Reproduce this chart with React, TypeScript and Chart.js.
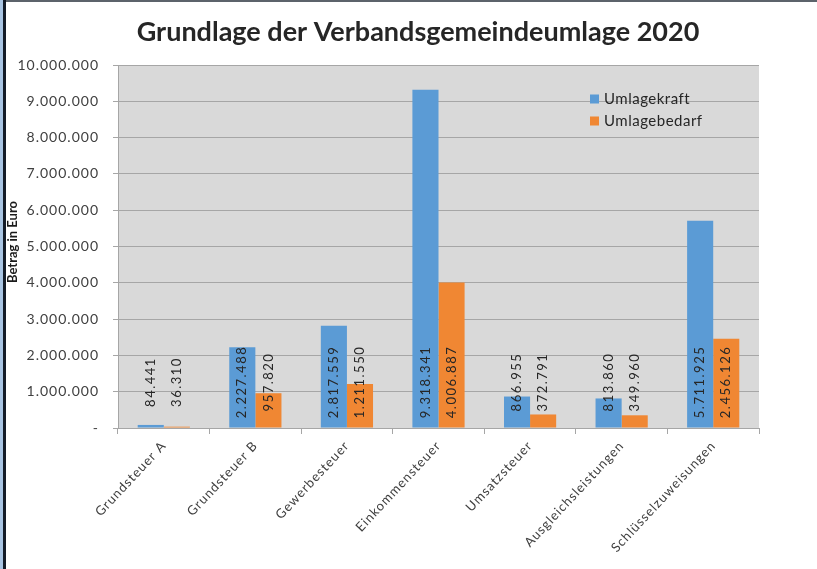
import React, { useEffect, useRef } from "react";
import { Chart, registerables } from "chart.js";

Chart.register(...registerables);

const titleText = "Grundlage der Verbandsgemeindeumlage 2020";
const yAxisTitle = "Betrag in Euro";
const categories = [
  "Grundsteuer A",
  "Grundsteuer B",
  "Gewerbesteuer",
  "Einkommensteuer",
  "Umsatzsteuer",
  "Ausgleichsleistungen",
  "Schlüsselzuweisungen",
];
const seriesNames = ["Umlagekraft", "Umlagebedarf"];
const umlagekraft = [84441, 2227488, 2817559, 9318341, 866955, 813860, 5711925];
const umlagebedarf = [36310, 957820, 1211550, 4006887, 372791, 349960, 2456126];
const yMin = 0;
const yMax = 10000000;
const yStep = 1000000;

const BLUE = "#5b9bd5";
const ORANGE = "#f08733";
const FONT = "Lato, 'Open Sans', sans-serif";

function fmt(n: number): string {
  if (n === 0) return "-";
  const s = Math.round(n).toString();
  return s.replace(/\B(?=(\d{3})+(?!\d))/g, ".");
}

const decorPlugin = {
  id: "decor",
  beforeDraw(chart: any) {
    const { ctx, chartArea } = chart;
    ctx.letterSpacing = "1px";
    ctx.save();
    ctx.fillStyle = "#d9d9d9";
    ctx.fillRect(chartArea.left, chartArea.top, chartArea.right - chartArea.left, chartArea.bottom - chartArea.top);
    ctx.restore();
  },
  afterDatasetsDraw(chart: any) {
    const { ctx, chartArea } = chart;
    const yScale = chart.scales.y;
    ctx.save();
    ctx.letterSpacing = "1.5px";
    ctx.font = `13px ${FONT}`;
    ctx.fillStyle = "#262626";
    ctx.textAlign = "center";
    ctx.textBaseline = "middle";
    chart.data.datasets.forEach((ds: any, di: number) => {
      const meta = chart.getDatasetMeta(di);
      meta.data.forEach((el: any, i: number) => {
        const x = el.x;
        const y = yScale.bottom - 46;
        ctx.save();
        ctx.translate(x, y);
        ctx.rotate(-Math.PI / 2);
        ctx.fillText(fmt(ds.data[i]), 0, 0);
        ctx.restore();
      });
    });
    // title
    ctx.letterSpacing = "0px";
    ctx.font = `bold 27px ${FONT}`;
    ctx.fillStyle = "#262626";
    ctx.textAlign = "center";
    ctx.textBaseline = "middle";
    ctx.fillText(titleText, 418, 32);
    // y axis title
    ctx.save();
    ctx.translate(13, 242);
    ctx.rotate(-Math.PI / 2);
    ctx.font = `bold 13px ${FONT}`;
    ctx.fillStyle = "#1a1a1a";
    ctx.fillText(yAxisTitle, 0, 0);
    ctx.restore();
    // legend
    const colors = [BLUE, ORANGE];
    const lx = 590;
    const ly = [99, 121];
    ctx.letterSpacing = "0.5px";
    seriesNames.forEach((name, i) => {
      ctx.fillStyle = colors[i];
      ctx.fillRect(lx, ly[i] - 4.5, 9, 9);
      ctx.fillStyle = "#262626";
      ctx.font = `15px ${FONT}`;
      ctx.textAlign = "left";
      ctx.textBaseline = "middle";
      ctx.fillText(name, lx + 14, ly[i]);
    });
    ctx.restore();
  },
};

export default function App() {
  const ref = useRef<HTMLCanvasElement | null>(null);
  useEffect(() => {
    if (!ref.current) return;
    const chart = new Chart(ref.current, {
      type: "bar",
      data: {
        labels: categories,
        datasets: [
          { label: seriesNames[0], data: umlagekraft, backgroundColor: BLUE, categoryPercentage: 0.57, barPercentage: 1 },
          { label: seriesNames[1], data: umlagebedarf, backgroundColor: ORANGE, categoryPercentage: 0.57, barPercentage: 1 },
        ],
      },
      options: {
        responsive: false,
        animation: false,
        layout: { padding: { left: 6, right: 58, top: 65, bottom: 0 } },
        plugins: {
          legend: { display: false },
          title: { display: false },
          tooltip: { enabled: false },
        },
        scales: {
          x: {
            afterFit(scale: any) {
              scale.height = 141;
            },
            grid: { drawOnChartArea: false, drawTicks: true, tickLength: 6, color: "#a6a6a6", offset: true },
            border: { color: "#a6a6a6", width: 1 },
            ticks: {
              autoSkip: false,
              minRotation: 47,
              maxRotation: 47,
              padding: 4,
              color: "#404040",
              font: { family: FONT, size: 13 },
            },
          },
          y: {
            min: yMin,
            max: yMax,
            afterFit(scale: any) {
              scale.width = 112;
            },
            grid: { color: "#a6a6a6", tickLength: 5, drawTicks: true },
            border: { color: "#a6a6a6" },
            ticks: {
              stepSize: yStep,
              padding: 14,
              color: "#404040",
              font: { family: FONT, size: 14 },
              callback: (v: any) => fmt(Number(v)),
            },
          },
        },
      },
      plugins: [decorPlugin],
    });
    return () => chart.destroy();
  }, []);
  return (
    <div style={{ position: "fixed", left: 0, top: 0, width: 817, height: 569, background: "#fff", overflow: "hidden" }}>
      <canvas ref={ref} width={817} height={569} style={{ position: "absolute", left: 0, top: 0 }} />
      <div style={{ position: "absolute", left: 0, top: 0, width: 817, height: 2, background: "#5c636b" }} />
      <div style={{ position: "absolute", left: 0, top: 0, width: 3, height: 569, background: "#a9c5e3" }} />
      <div style={{ position: "absolute", left: 3, top: 0, width: 3, height: 569, background: "#141c28" }} />
    </div>
  );
}
